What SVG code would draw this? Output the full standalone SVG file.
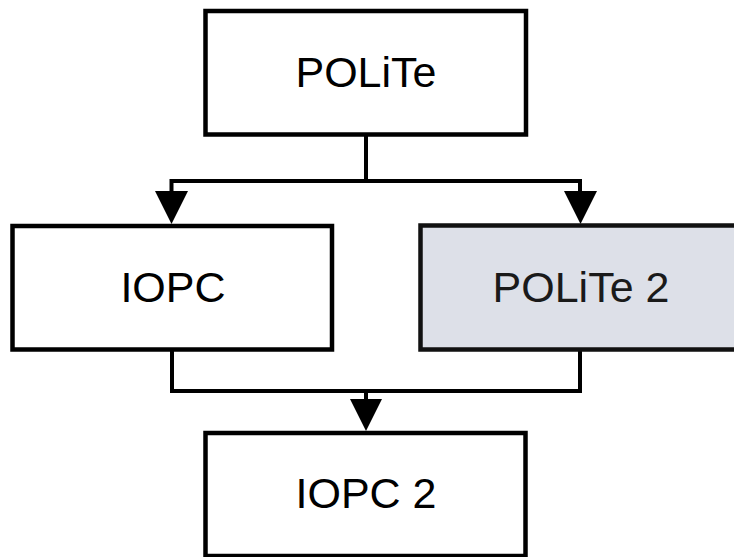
<svg xmlns="http://www.w3.org/2000/svg" width="734" height="557" viewBox="0 0 734 557">
  <style>
    .box { fill: #ffffff; stroke: #000000; stroke-width: 4.5; }
    .shaded { fill: #dde0e8; stroke: #111111; }
    .lbl { font-family: "Liberation Sans", Arial, sans-serif; font-size: 43px; fill: #000000; text-anchor: middle; }
    .conn { fill: none; stroke: #000000; stroke-width: 4; stroke-linejoin: miter; }
    .head { fill: #000000; stroke: none; }
  </style>
  <rect width="734" height="557" fill="#ffffff"/>
  <g id="connectors">
    <polyline class="conn" points="366,134 366,181"/>
    <polyline class="conn" points="171.5,194 171.5,181 580,181 580,194"/>
    <polygon class="head" points="155,191 188,191 171.5,224"/>
    <polygon class="head" points="564,191 597,191 580.5,224"/>
    <polyline class="conn" points="172,349 172,391 580,391 580,349"/>
    <polyline class="conn" points="366,391 366,402"/>
    <polygon class="head" points="350,399 382,399 366,431"/>
  </g>
  <g id="node-polite">
    <rect class="box" x="205.5" y="11" width="320.5" height="123.5"/>
    <text class="lbl" x="366" y="87">POLiTe</text>
  </g>
  <g id="node-iopc">
    <rect class="box" x="12.5" y="226" width="319.5" height="123.5"/>
    <text class="lbl" x="173" y="302">IOPC</text>
  </g>
  <g id="node-polite2">
    <rect class="box shaded" x="420.5" y="225.5" width="320" height="124"/>
    <text class="lbl" x="581" y="302" fill="#1a1a1a" style="fill:#1a1a1a">POLiTe 2</text>
  </g>
  <g id="node-iopc2">
    <rect class="box" x="205.5" y="433" width="320" height="123"/>
    <text class="lbl" x="366" y="508">IOPC 2</text>
  </g>
</svg>
